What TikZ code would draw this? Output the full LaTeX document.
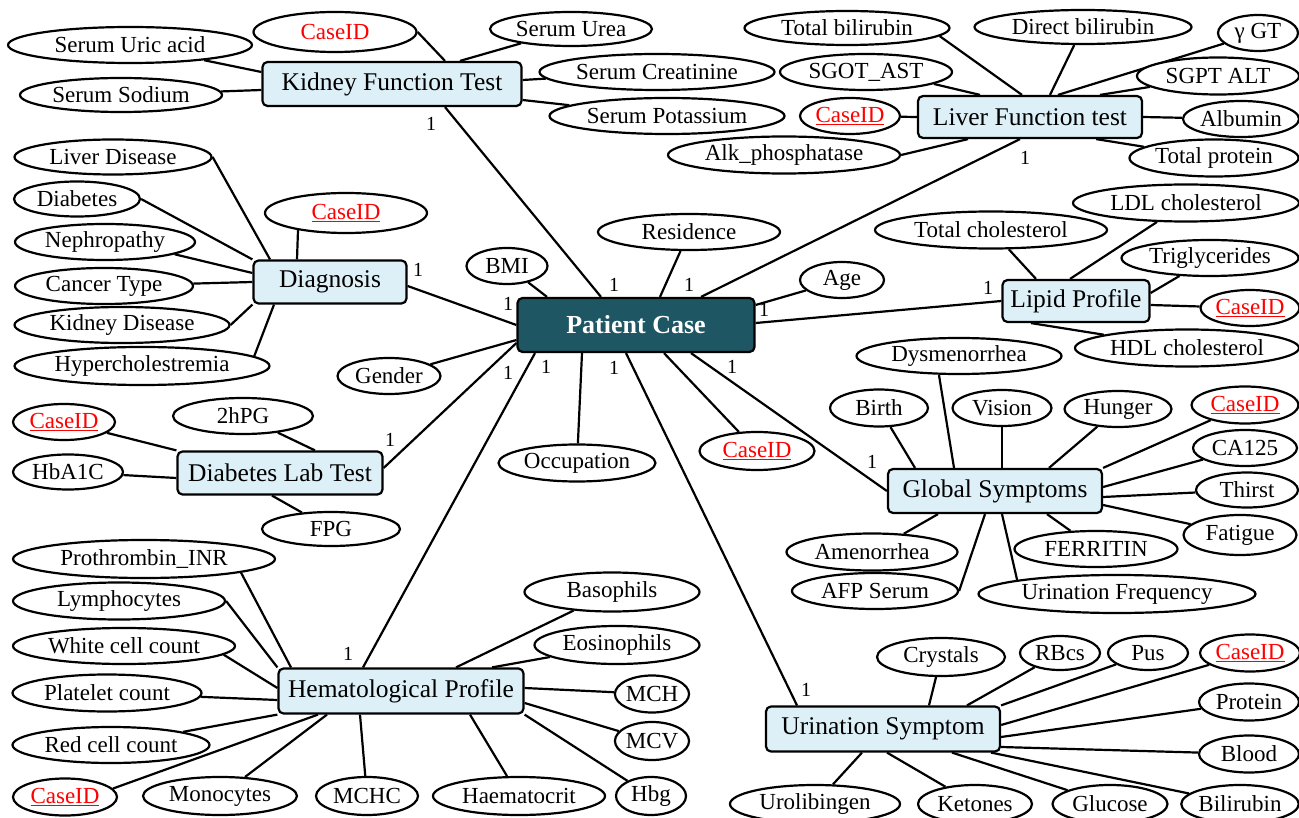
\documentclass[tikz,border=0pt]{standalone}
\usepackage{fontspec}
\setmainfont{Liberation Serif}
\usetikzlibrary{shapes.geometric,backgrounds}
\definecolor{boxblue}{RGB}{221,240,248}
\definecolor{pcfill}{RGB}{30,86,100}
\tikzset{
 sz/.style 2 args={minimum width=#1, minimum height=#2},
 attr/.style={ellipse, draw, line width=2.2pt, fill=white, inner sep=0pt, font=\fontsize{23}{24}\selectfont},
 keyattr/.style={attr, text=red},
 ent/.style={rectangle, rounded corners=5pt, draw, line width=2.2pt, fill=boxblue, inner sep=0pt, font=\fontsize{25.5}{27}\selectfont},
 card/.style={inner sep=0pt, font=\fontsize{20}{20}\selectfont},
 link/.style={line width=2.2pt}
}
\begin{document}
\begin{tikzpicture}[x=1pt,y=-1pt]
\useasboundingbox (0,0) rectangle (1299,818);
\clip (0,0) rectangle (1299,818);
% central entity
\node[ent, fill=pcfill, text=white, font=\bfseries\fontsize{26}{28}\selectfont, sz={237}{54}] (pc) at (636,325) {Patient Case};
\node[attr, sz={81}{36}] (bmi) at (507,266) {BMI};
\node[attr, sz={182}{36}] (res) at (689,232) {Residence};
\node[attr, sz={84}{36}] (age) at (842,280) {Age};
\node[attr, sz={103}{36}] (gender) at (389,376) {Gender};
\node[attr, sz={157}{37}] (occ) at (577,463) {Occupation};
\node[keyattr, sz={115}{38}] (pcid) at (757,451) {\underline{CaseID}};
% Kidney
\node[ent, sz={259}{44}] (kft) at (392,84) {Kidney Function Test};
\node[keyattr, sz={163}{40}] (kcid) at (335,32) {CaseID};
\node[attr, sz={162}{34}] (urea) at (571,29) {Serum Urea};
\node[attr, sz={244}{36}] (uric) at (130,45) {Serum Uric acid};
\node[attr, sz={202}{34}] (sodium) at (121,95) {Serum Sodium};
\node[attr, sz={235}{36}] (creat) at (657,72) {Serum Creatinine};
\node[attr, sz={235}{36}] (pot) at (667,116) {Serum Potassium};
% Liver
\node[ent, sz={224}{42}] (lft) at (1030,117) {Liver Function test};
\node[attr, sz={205}{34}] (tbil) at (847,28) {Total bilirubin};
\node[attr, sz={217}{34}] (dbil) at (1083,27) {Direct bilirubin};
\node[attr, sz={80}{36}] (ggt) at (1258,33) {γ GT};
\node[attr, sz={172}{36}] (sgot) at (866,72) {SGOT\_AST};
\node[attr, sz={162}{37}] (sgpt) at (1218,76) {SGPT ALT};
\node[keyattr, sz={100}{36}] (lcid) at (850,116) {\underline{CaseID}};
\node[attr, sz={116}{36}] (alb) at (1241,119) {Albumin};
\node[attr, sz={232}{37}] (alk) at (784,155) {Alk\_phosphatase};
\node[attr, sz={169}{37}] (tprot) at (1214,158) {Total protein};
% Lipid
\node[ent, sz={147}{42}] (lpf) at (1076,301) {Lipid Profile};
\node[attr, sz={226}{37}] (ldl) at (1186,203) {LDL cholesterol};
\node[attr, sz={232}{37}] (tchol) at (991,230) {Total cholesterol};
\node[attr, sz={177}{36}] (trig) at (1210,258) {Triglycerides};
\node[keyattr, sz={99}{36}] (lpcid) at (1250,308) {\underline{CaseID}};
\node[attr, sz={224}{37}] (hdl) at (1187,348) {HDL cholesterol};
% Global symptoms
\node[ent, sz={214}{44}] (gs) at (995,491) {Global Symptoms};
\node[attr, sz={205}{36}] (dysm) at (959,356) {Dysmenorrhea};
\node[attr, sz={98}{37}] (birth) at (879,408) {Birth};
\node[attr, sz={99}{36}] (vision) at (1002,408) {Vision};
\node[attr, sz={107}{36}] (hunger) at (1118,409) {Hunger};
\node[keyattr, sz={107}{37}] (gcid) at (1245,405) {\underline{CaseID}};
\node[attr, sz={104}{36}] (ca125) at (1245,448) {CA125};
\node[attr, sz={102}{35}] (thirst) at (1247,490) {Thirst};
\node[attr, sz={113}{40}] (fatig) at (1240,535) {Fatigue};
\node[attr, sz={171}{37}] (amen) at (872,552) {Amenorrhea};
\node[attr, sz={163}{36}] (ferr) at (1096,549) {FERRITIN};
\node[attr, sz={166}{36}] (afp) at (875,591) {AFP Serum};
\node[attr, sz={277}{38}] (urf) at (1117,594) {Urination Frequency};
% Urination
\node[ent, sz={234}{45}] (us) at (883,729) {Urination Symptom};
\node[attr, sz={128}{38}] (cryst) at (941,657) {Crystals};
\node[attr, sz={80}{34}] (rbc) at (1060,653) {RBcs};
\node[attr, sz={80}{34}] (pus) at (1148,653) {Pus};
\node[keyattr, sz={100}{37}] (ucid) at (1250,653) {\underline{CaseID}};
\node[attr, sz={100}{37}] (prot) at (1249,702) {Protein};
\node[attr, sz={100}{37}] (blood) at (1249,754) {Blood};
\node[attr, sz={170}{38}] (urob) at (815,804) {Urolibingen};
\node[attr, sz={114}{38}] (ket) at (975,804) {Ketones};
\node[attr, sz={115}{38}] (gluc) at (1110,804) {Glucose};
\node[attr, sz={115}{38}] (bili) at (1240,804) {Bilirubin};
% Diagnosis
\node[ent, sz={153}{43}] (dg) at (330,282) {Diagnosis};
\node[attr, sz={197}{35}] (ld) at (113,157) {Liver Disease};
\node[attr, sz={126}{35}] (diab) at (77,199) {Diabetes};
\node[keyattr, sz={162}{40}] (dcid) at (346,213) {\underline{CaseID}};
\node[attr, sz={180}{36}] (neph) at (105,242) {Nephropathy};
\node[attr, sz={178}{36}] (canc) at (104,286) {Cancer Type};
\node[attr, sz={215}{36}] (kd) at (122,325) {Kidney Disease};
\node[attr, sz={255}{38}] (hyp) at (142,366) {Hypercholestremia};
% Diabetes lab
\node[ent, sz={205}{43}] (dl) at (280,473) {Diabetes Lab Test};
\node[keyattr, sz={102}{36}] (dlcid) at (64,422) {\underline{CaseID}};
\node[attr, sz={140}{36}] (hpg) at (243,416) {2hPG};
\node[attr, sz={110}{35}] (hba) at (68,472) {HbA1C};
\node[attr, sz={138}{34}] (fpg) at (331,529) {FPG};
% Hematological
\node[ent, sz={245}{45}] (hp) at (401,691) {Hematological Profile};
\node[attr, sz={262}{38}] (proth) at (144,559) {Prothrombin\_INR};
\node[attr, sz={212}{37}] (lymph) at (119,601) {Lymphocytes};
\node[attr, sz={222}{36}] (wcc) at (124,646) {White cell count};
\node[attr, sz={189}{37}] (plt) at (107,693) {Platelet count};
\node[attr, sz={197}{36}] (rcc) at (111,745) {Red cell count};
\node[keyattr, sz={104}{37}] (hcid) at (65,797) {\underline{CaseID}};
\node[attr, sz={154}{38}] (mono) at (220,796) {Monocytes};
\node[attr, sz={102}{38}] (mchc) at (367,796) {MCHC};
\node[attr, sz={172}{38}] (haem) at (519,796) {Haematocrit};
\node[attr, sz={70}{38}] (hbg) at (651,796) {Hbg};
\node[attr, sz={70}{37}] (mch) at (652,694) {MCH};
\node[attr, sz={70}{38}] (mcv) at (652,741) {MCV};
\node[attr, sz={165}{38}] (eos) at (617,645) {Eosinophils};
\node[attr, sz={175}{39}] (baso) at (612,592) {Basophils};
% cardinalities
\node[card] (c1) at (431,124) {1};
\node[card] (c2) at (1025,158) {1};
\node[card] (c3) at (988,288) {1};
\node[card] (c4) at (872,462) {1};
\node[card] (c5) at (806,690) {1};
\node[card] (c6) at (418,270) {1};
\node[card] (c7) at (390,440) {1};
\node[card] (c8) at (348,654) {1};
\node[card] (p1) at (614,285) {1};
\node[card] (p2) at (689,285) {1};
\node[card] (p3) at (508,304) {1};
\node[card] (p4) at (764,310) {1};
\node[card] (p5) at (508,373) {1};
\node[card] (p6) at (546,367) {1};
\node[card] (p7) at (614,368) {1};
\node[card] (p8) at (732,367) {1};
\begin{scope}[on background layer, every path/.style={link}]
% patient
\draw (bmi) -- ([xshift=-89]pc.north);
\draw (res) -- ([xshift=24]pc.north);
\draw (age) -- ([yshift=20]pc.east);
\draw (gender) -- ([yshift=-15]pc.west);
\draw (occ) -- ([xshift=-54]pc.south);
\draw (pcid) -- ([xshift=28]pc.south);
\draw ([xshift=53]kft.south) -- ([xshift=-35]pc.north);
\draw ([xshift=-10]lft.south) -- ([xshift=65]pc.north);
\draw (lpf.west) -- ([yshift=2]pc.east);
\draw ([xshift=55]pc.south) -- (gs.west);
\draw ([xshift=-86]us.north) -- ([xshift=-10]pc.south);
\draw ([yshift=-4]dg.east) -- (pc.west);
\draw ([yshift=5]dl.east) -- ([yshift=-18]pc.west);
\draw ([xshift=-38]hp.north) -- ([xshift=-101]pc.south);
% kidney
\draw (kcid.east) -- ([xshift=53]kft.north);
\draw (urea) -- ([xshift=68]kft.north);
\draw (uric) -- ([yshift=12]kft.west);
\draw (sodium) -- ([yshift=-6]kft.west);
\draw (creat) -- ([yshift=4]kft.east);
\draw (pot) -- ([yshift=-16]kft.east);
% liver
\draw (tbil.-5) -- ([xshift=-8]lft.north);
\draw (dbil) -- ([xshift=20]lft.north);
\draw (ggt) -- ([xshift=28]lft.north);
\draw (sgot.-10) -- ([xshift=-50]lft.north);
\draw (sgpt) -- ([xshift=70]lft.north);
\draw (lcid) -- (lft.west);
\draw (alb) -- (lft.east);
\draw (alk.east) -- ([xshift=-62]lft.south);
\draw (tprot) -- ([xshift=-47]lft.south east);
% lipid
\draw (ldl) -- ([xshift=-6]lpf.north);
\draw (tchol) -- ([xshift=-40]lpf.north);
\draw (trig) -- ([yshift=8]lpf.east);
\draw (lpcid) -- ([yshift=-4]lpf.east);
\draw (hdl) -- ([xshift=-45]lpf.south);
% global
\draw (birth) -- ([xshift=-80]gs.north);
\draw ([xshift=-20]dysm.south) -- ([xshift=-41]gs.north);
\draw (vision) -- ([xshift=7]gs.north);
\draw (hunger) -- ([xshift=54]gs.north);
\draw (gcid) -- (gs.north east);
\draw (ca125) -- ([yshift=4]gs.east);
\draw (thirst) -- ([yshift=-6]gs.east);
\draw (fatig) -- ([yshift=-14]gs.east);
\draw (amen) -- ([xshift=-57]gs.south);
\draw (afp.east) -- ([xshift=-10]gs.south);
\draw (urf.172) -- ([xshift=7]gs.south);
\draw (ferr) -- ([xshift=52]gs.south);
% urination
\draw (cryst) -- ([xshift=46]us.north);
\draw (rbc) -- ([xshift=84]us.north);
\draw (pus) -- (us.north east);
\draw (ucid) -- ([yshift=4]us.east);
\draw (prot) -- ([yshift=-8]us.east);
\draw (blood) -- ([yshift=-18]us.east);
\draw (bili) -- ([xshift=-10]us.south east);
\draw (gluc) -- ([xshift=69]us.south);
\draw (ket) -- ([xshift=4]us.south);
\draw (urob) -- ([xshift=-21]us.south);
% diagnosis
\draw (ld.east) -- ([xshift=-60]dg.north);
\draw (diab.east) -- (dg.north west);
\draw (neph.-10) -- ([yshift=9]dg.west);
\draw (canc) -- (dg.west);
\draw (kd.east) -- (dg.south west);
\draw (hyp.5) -- ([xshift=-56]dg.south);
\draw ([xshift=-48,yshift=4]dcid.south) -- ([xshift=-33]dg.north);
% diabetes lab
\draw (dlcid) -- (dl.north west);
\draw (hpg) -- ([xshift=35]dl.north);
\draw (hba) -- ([yshift=-5]dl.west);
\draw (fpg) -- ([xshift=-8]dl.south);
% hematological
\draw (proth.-8) -- ([xshift=-110]hp.north);
\draw (lymph.east) -- (hp.north west);
\draw (wcc.-5) -- ([yshift=3]hp.west);
\draw (plt) -- ([yshift=-9]hp.west);
\draw (rcc) -- (hp.south west);
\draw (hcid.10) -- ([xshift=-83]hp.south);
\draw (mono) -- ([xshift=-74]hp.south);
\draw (mchc) -- ([xshift=-41]hp.south);
\draw (haem) -- ([xshift=69]hp.south);
\draw (hbg) -- (hp.south east);
\draw (mcv) -- ([yshift=-12]hp.east);
\draw (mch) -- ([yshift=3]hp.east);
\draw (eos) -- ([xshift=91]hp.north);
\draw (baso) -- ([xshift=55]hp.north);
\end{scope}
\end{tikzpicture}
\end{document}
